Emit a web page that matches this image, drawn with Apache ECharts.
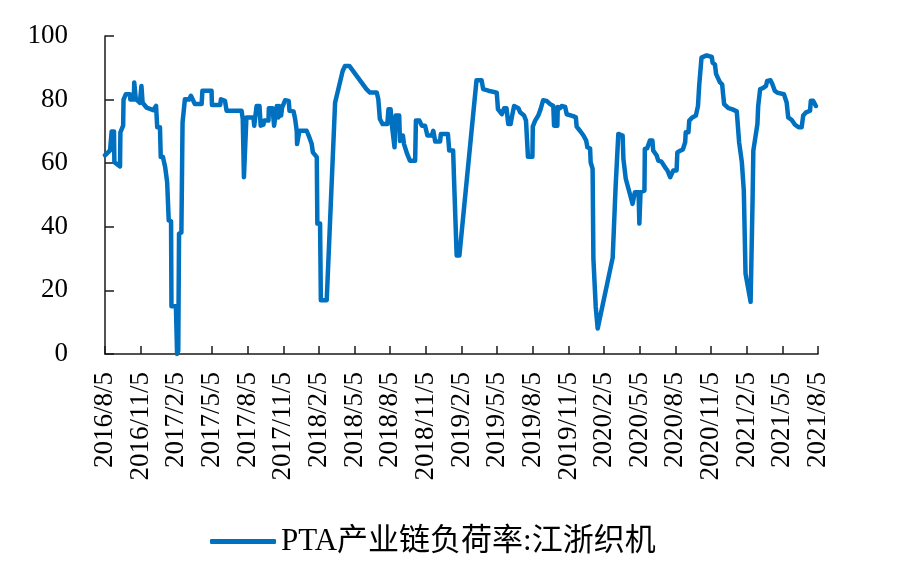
<!DOCTYPE html>
<html>
<head>
<meta charset="utf-8">
<script src="https://cdn.jsdelivr.net/npm/echarts@6/dist/echarts.min.js"></script>
<style>
html,body{margin:0;padding:0;background:#fff;}
#chart{width:913px;height:575px;}
</style>
</head>
<body>
<div id="chart"></div>
<script>
var seriesName = 'PTA产业链负荷率:江浙织机';
var xTickLabels = ['2016/8/5','2016/11/5','2017/2/5','2017/5/5','2017/8/5','2017/11/5','2018/2/5','2018/5/5','2018/8/5','2018/11/5','2019/2/5','2019/5/5','2019/8/5','2019/11/5','2020/2/5','2020/5/5','2020/8/5','2020/11/5','2021/2/5','2021/5/5','2021/8/5'];
var yTicks = [0,20,40,60,80,100];
var dates = [
'2016-08-05','2016-08-18','2016-08-22','2016-08-28','2016-08-29','2016-09-13','2016-09-14','2016-09-21','2016-09-22','2016-09-28',
'2016-10-08','2016-10-09','2016-10-18','2016-10-19','2016-10-23','2016-11-03','2016-11-07','2016-11-10','2016-11-20','2016-12-07',
'2016-12-14','2016-12-17','2016-12-24','2016-12-26','2017-01-01','2017-01-07','2017-01-12','2017-01-15','2017-01-16','2017-01-22',
'2017-01-23','2017-02-04','2017-02-07','2017-02-10','2017-02-12','2017-02-18','2017-02-21','2017-02-26','2017-02-27','2017-03-07',
'2017-03-12','2017-03-22','2017-04-09','2017-04-11','2017-05-04','2017-05-05','2017-05-26','2017-05-28','2017-06-08','2017-06-12',
'2017-07-20','2017-07-23','2017-07-26','2017-07-31','2017-08-02','2017-08-20','2017-08-22','2017-08-27','2017-08-28','2017-09-05',
'2017-09-08','2017-09-15','2017-09-17','2017-09-28','2017-09-29','2017-10-08','2017-10-12','2017-10-17','2017-10-19','2017-10-23',
'2017-10-25','2017-10-30','2017-11-02','2017-11-10','2017-11-19','2017-11-21','2017-12-01','2017-12-05','2017-12-09','2017-12-10',
'2017-12-15','2017-12-16','2018-01-04','2018-01-11','2018-01-17','2018-01-20','2018-01-30','2018-02-01','2018-02-08','2018-02-10',
'2018-02-25','2018-03-16','2018-04-05','2018-04-11','2018-04-22','2018-06-05','2018-06-14','2018-07-01','2018-07-05','2018-07-09',
'2018-07-16','2018-07-28','2018-07-31','2018-08-06','2018-08-09','2018-08-16','2018-08-19','2018-08-28','2018-08-30','2018-09-07',
'2018-09-10','2018-09-15','2018-09-18','2018-09-25','2018-10-08','2018-10-10','2018-10-19','2018-10-25','2018-11-03','2018-11-09',
'2018-11-20','2018-11-24','2018-11-28','2018-11-29','2018-12-11','2018-12-13','2018-12-31','2019-01-04','2019-01-14','2019-01-16',
'2019-01-21','2019-01-23','2019-01-30','2019-03-13','2019-03-26','2019-03-30','2019-04-13','2019-04-17','2019-05-04','2019-05-07',
'2019-05-17','2019-05-21','2019-05-23','2019-05-29','2019-06-03','2019-06-09','2019-06-12','2019-06-16','2019-06-18','2019-06-29',
'2019-07-03','2019-07-13','2019-07-18','2019-07-22','2019-07-23','2019-08-04','2019-08-05','2019-08-11','2019-08-19','2019-08-25',
'2019-09-01','2019-09-10','2019-09-19','2019-09-27','2019-09-29','2019-10-07','2019-10-08','2019-10-14','2019-10-18','2019-10-27',
'2019-10-31','2019-11-17','2019-11-24','2019-11-26','2019-12-04','2019-12-13','2019-12-20','2019-12-23','2019-12-30','2020-01-01',
'2020-01-06','2020-01-08','2020-01-12','2020-01-14','2020-01-19','2020-02-27','2020-03-04','2020-03-08','2020-03-11','2020-03-22',
'2020-03-24','2020-03-30','2020-04-04','2020-04-10','2020-04-17','2020-04-23','2020-05-02','2020-05-04','2020-05-07','2020-05-17',
'2020-05-18','2020-05-24','2020-05-31','2020-06-07','2020-06-09','2020-06-18','2020-06-22','2020-06-30','2020-07-09','2020-07-15',
'2020-07-22','2020-07-30','2020-08-08','2020-08-10','2020-08-17','2020-08-24','2020-08-30','2020-09-01','2020-09-08','2020-09-10',
'2020-09-18','2020-09-27','2020-10-02','2020-10-05','2020-10-10','2020-10-11','2020-10-24','2020-11-07','2020-11-09','2020-11-15',
'2020-11-18','2020-11-23','2020-11-28','2020-12-03','2020-12-05','2020-12-08','2020-12-19','2020-12-28','2021-01-10','2021-01-14',
'2021-01-16','2021-01-21','2021-01-23','2021-01-27','2021-01-28','2021-01-31','2021-02-02','2021-02-07','2021-02-15','2021-02-20',
'2021-02-22','2021-02-26','2021-03-02','2021-03-04','2021-03-08','2021-03-09','2021-03-16','2021-03-24','2021-03-27','2021-04-05',
'2021-04-10','2021-04-16','2021-04-22','2021-05-09','2021-05-16','2021-05-20','2021-05-29','2021-06-07','2021-06-16','2021-06-24',
'2021-06-28','2021-07-05','2021-07-10','2021-07-15','2021-07-17','2021-07-23','2021-07-30'
];
var values = [
62.5,64,70,70,60.3,59,69.7,71.8,80,81.7,
81.7,80,80,85.4,80.2,79,84.3,79,77.5,76.7,
78,71.3,71.3,62,62,58.7,54,54,42,41.7,
15,15,0,1,37.8,38.2,72.8,73.4,80.1,80,
81.2,78.6,78.6,82.8,82.8,78.3,78.3,80.1,79.6,76.5,
76.5,73.9,55.6,55.6,74.4,74.4,71.8,71.8,78,78,
71.8,72.1,73.4,73.4,77.3,77.3,71.8,71.8,78,74.4,
78,75,77.5,79.8,79.6,76.5,76.3,73.9,70.2,66,
66,70.2,70.2,68.1,66,63.4,61.9,41,41,16.9,
16.9,79,89,90.6,90.6,83.3,82.2,82.2,80.1,73.9,
72.3,72.3,77,77,72.3,65,75,75,67,68.7,
66,66,62.9,60.8,60.8,73.4,73.4,71.8,71.8,68.7,
68.7,70.2,70.2,66.8,66.8,69.2,69.2,64,64,56.1,
55.6,31,31,86.1,86.1,83.3,82.8,82.2,82.2,77,
75.4,74.8,77.3,77.3,72.3,72.3,74.4,74.4,78,77.3,
76,75,73.4,73.4,62,62,71.5,73.4,75,77,
79.8,79.6,78.6,78,71.8,71.8,77.7,77.3,78,77.7,
75.4,74.8,74.4,71.5,70.2,68.7,67.1,65,64.6,60.3,
58.2,30,29.6,14.8,8,30.3,52.5,52.9,69.2,68.7,
61.3,55.1,54.8,50.4,47.2,50.9,50.9,41,50.9,51.4,
64.5,64.7,67.1,67.1,64,62.4,60.8,60.5,58.7,57.7,
55.6,57.7,57.7,63.4,63.9,64.3,66.6,69.7,69.7,73.4,
74.4,75,78,84.3,84.8,93.2,93.9,93.4,91.6,91,
88,88,85.4,84.8,82.2,78.6,77.3,77,76.3,76,
66.6,66.6,60.3,60,51.4,51.4,25.3,25,16.4,48.3,
64,64,72.3,78,78.6,83.3,83.6,84.3,85.9,86.1,
84.8,82.8,82.2,81.7,79.1,74.4,73.6,72.1,71.3,71.3,
75,76,76.5,76.5,79.6,79.6,78
];

// convert a date to fractional months since 2016-08-05 (axis ticks every 3 months)
function monthPos(s) {
  var p = s.split('-').map(Number);
  return (p[0] - 2016) * 12 + (p[1] - 8) + (p[2] - 5) / 30.4;
}
var seriesData = dates.map(function (d, i) { return [monthPos(d), values[i]]; });

var serif = "'Liberation Serif', 'Times New Roman', serif";
var chart = echarts.init(document.getElementById('chart'), null, {renderer: 'canvas'});
chart.setOption({
  animation: false,
  backgroundColor: '#ffffff',
  grid: {left: 105, right: 95, top: 36, bottom: 221, containLabel: false},
  legend: {
    show: true,
    data: [seriesName],
    left: 205,
    top: 521,
    icon: 'roundRect',
    itemWidth: 66,
    itemHeight: 5,
    itemGap: 10,
    textStyle: {fontFamily: "'Liberation Serif', 'Noto Sans CJK SC', serif", fontSize: 31, color: '#000'}
  },
  xAxis: {
    type: 'value',
    min: 0,
    max: (xTickLabels.length - 1) * 3,
    interval: 3,
    splitLine: {show: false},
    axisLine: {show: true, lineStyle: {color: '#1a1a1a', width: 1.5}},
    axisTick: {show: true, inside: true, length: 8, lineStyle: {color: '#1a1a1a', width: 1.5}},
    axisLabel: {
      rotate: 90,
      margin: 18,
      fontSize: 27,
      fontFamily: serif,
      color: '#000',
      formatter: function (v) { return xTickLabels[Math.round(v / 3)] || ''; }
    }
  },
  yAxis: {
    type: 'value',
    min: yTicks[0],
    max: yTicks[yTicks.length - 1],
    interval: 20,
    splitLine: {show: false},
    axisLine: {show: true, lineStyle: {color: '#1a1a1a', width: 1.5}},
    axisTick: {show: true, inside: true, length: 9, lineStyle: {color: '#1a1a1a', width: 1.5}},
    axisLabel: {margin: 37, fontSize: 27, fontFamily: serif, color: '#000'}
  },
  series: [{
    name: seriesName,
    type: 'line',
    data: seriesData,
    showSymbol: false,
    symbol: 'none',
    lineStyle: {color: '#0070C0', width: 4.5, join: 'round', cap: 'round'},
    itemStyle: {color: '#0070C0'}
  }]
});
</script>
</body>
</html>
